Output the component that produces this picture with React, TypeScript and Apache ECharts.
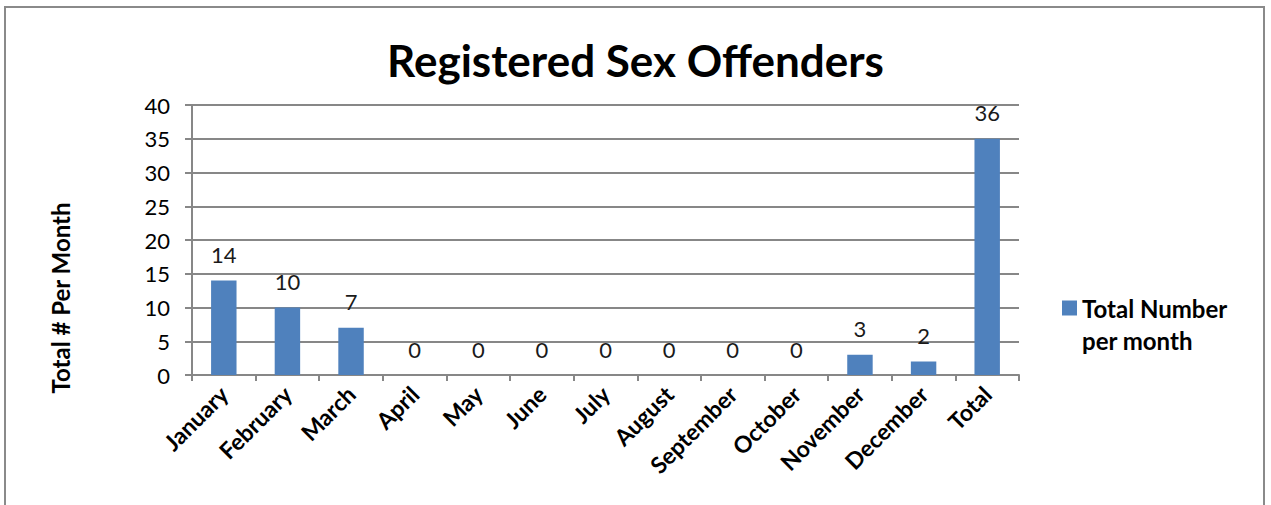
import React, { useEffect, useRef } from "react";
import * as echarts from "echarts";

const categories = ["January", "February", "March", "April", "May", "June", "July", "August", "September", "October", "November", "December", "Total"];
const barValues = [14, 10, 7, 0, 0, 0, 0, 0, 0, 0, 3, 2, 35];
const dataLabels = ["14", "10", "7", "0", "0", "0", "0", "0", "0", "0", "3", "2", "36"];
const seriesName = "Total Number per month";
const titleText = "Registered Sex Offenders";
const yAxisName = "Total # Per Month";

export default function App() {
  const ref = useRef<HTMLDivElement>(null);
  useEffect(() => {
    document.body.style.margin = "0";
    const chart = echarts.init(ref.current!, null, { renderer: "svg" });
    const font = "Lato, 'Open Sans', sans-serif";
    chart.setOption({
      animation: false,
      backgroundColor: "#ffffff",
      textStyle: { fontFamily: font },
      title: {
        text: titleText,
        left: "center",
        top: 33,
        textStyle: { fontSize: 44, fontWeight: "bold", color: "#000", fontFamily: font },
      },
      legend: {
        data: [seriesName],
        orient: "vertical",
        left: 1057,
        top: 255,
        itemWidth: 15,
        itemHeight: 15,
        itemGap: 0,
        icon: "rect",
        formatter: () => "\u00a0\nTotal Number\nper month",
        textStyle: { fontSize: 24, fontWeight: "bold", color: "#000", lineHeight: 32, fontFamily: font },
      },
      grid: { left: 192, right: 252, top: 105, bottom: 130, containLabel: false },
      xAxis: {
        type: "category",
        data: categories,
        axisLine: { lineStyle: { color: "#878787", width: 2 } },
        axisTick: { show: true, length: 6, lineStyle: { color: "#878787", width: 2 } },
        axisLabel: { rotate: 45, interval: 0, fontSize: 23, fontWeight: "bold", color: "#000", margin: 15, fontFamily: font },
      },
      yAxis: {
        type: "value",
        min: 0,
        max: 40,
        interval: 5,
        axisLine: { show: true, lineStyle: { color: "#878787", width: 2 } },
        axisTick: { show: true, length: 7, lineStyle: { color: "#878787", width: 2 } },
        axisLabel: { fontSize: 22, color: "#000", margin: 22, fontFamily: font },
        splitLine: { show: true, lineStyle: { color: "#878787", width: 2 } },
      },
      series: [
        {
          name: seriesName,
          type: "bar",
          data: barValues,
          barWidth: "40%",
          itemStyle: { color: "#4f81bd" },
          label: {
            show: true,
            position: "top",
            distance: 15,
            fontSize: 22,
            color: "#1a1a1a",
            fontFamily: font,
            formatter: (p: any) => dataLabels[p.dataIndex],
          },
        },
      ],
      graphic: [
        {
          type: "rect",
          shape: { x: 5, y: 7, width: 1259, height: 520 },
          style: { fill: "none", stroke: "#8a8a8a", lineWidth: 2 },
          silent: true,
        },
        {
          type: "text",
          x: 60,
          y: 298,
          rotation: Math.PI / 2,
          style: {
            text: yAxisName,
            fontSize: 24,
            fontWeight: "bold",
            fill: "#000",
            fontFamily: font,
            align: "center",
            verticalAlign: "middle",
          },
        },
      ],
    });
    return () => chart.dispose();
  }, []);
  return <div ref={ref} style={{ width: 1271, height: 505 }} />;
}
